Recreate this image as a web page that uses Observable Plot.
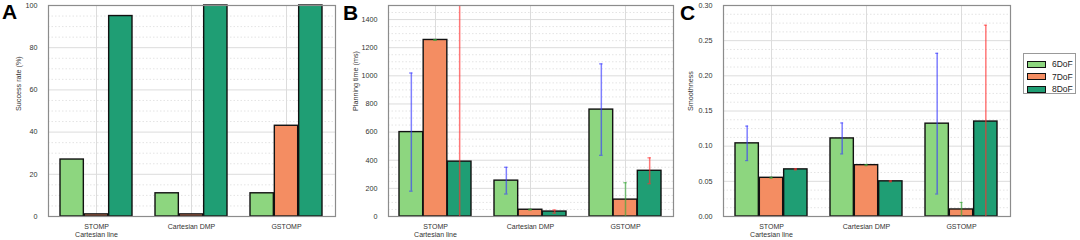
<!DOCTYPE html>
<html>
<head>
<meta charset="utf-8">
<script src="https://cdn.jsdelivr.net/npm/d3@7"></script>
<script src="https://cdn.jsdelivr.net/npm/@observablehq/plot@0.6"></script>
<style>
  html, body { margin: 0; padding: 0; background: #fff; }
  #wrap { position: relative; width: 1080px; height: 240px; overflow: hidden; font-family: "Liberation Sans", Arial, sans-serif; }
  .panel { position: absolute; top: 0; }
  .letter { position: absolute; font: bold 21px "Liberation Sans", Arial, sans-serif; color: #000; line-height: 1; }
  #legend { position: absolute; left: 1023px; top: 53px; width: 53px; height: 41px; border: 1px solid #999; background: #fff; box-sizing: border-box; padding-top: 4px; }
  .item { display: flex; align-items: center; height: 12.5px; font-size: 8.5px; color: #222; }
  .sw { width: 19px; height: 7px; border: 1.3px solid #111; box-sizing: border-box; margin: 0 6px 0 3px; }
</style>
</head>
<body>
<div id="wrap"></div>
<script>
// ---- data ----
const categories = ["STOMP\nCartesian line", "Cartesian DMP", "GSTOMP"];
const series = ["6DoF", "7DoF", "8DoF"];
const barColors = ["#8dd67f", "#f48d62", "#1f9e74"];
const errColors = ["#3b3bff", "#3aa83a", "#ff3030"];

// Panel A: success rate (%)
const success6 = [27, 11, 11];
const success7 = [1, 1, 43];
const success8 = [95, 100, 100];
const successTicks = [0, 20, 40, 60, 80, 100];

// Panel B: planning time (ms), mean and error half-width
const planning6 = [600, 255, 760];
const planning6Err = [420, 95, 325];
const planning7 = [1255, 48, 120];
const planning7Err = [3, 3, 120];
const planning8 = [390, 35, 325];
const planning8Err = [1560, 11, 92];
const planningTicks = [0, 200, 400, 600, 800, 1000, 1200, 1400];

// Panel C: smoothness
const smooth6 = [0.104, 0.111, 0.132];
const smooth6Err = [0.0245, 0.022, 0.1];
const smooth7 = [0.055, 0.073, 0.010];
const smooth7Err = [0.0008, 0.0008, 0.010];
const smooth8 = [0.067, 0.050, 0.135];
const smooth8Err = [0.0008, 0.0008, 0.137];
const smoothTicks = [0, 0.05, 0.10, 0.15, 0.20, 0.25, 0.30];

const wrap = document.getElementById("wrap");

function panel({vals, errs, domain, ticks, minorStep, label, fmt, left, width, marginLeft, marginRight, labelOffset}) {
  const W = width - marginLeft - marginRight;
  const padI = 0.237;
  const step = W / 3;
  const bw3 = step * (1 - padI) / 3;
  const rows = categories.flatMap((c, ci) => series.map((s, si) => ({
    cat: c, s, si, v: vals[si][ci], e: errs ? errs[si][ci] : null
  })));
  const minor = d3.range(domain[0], domain[1] + minorStep / 2, minorStep).filter(v => !ticks.some(t => Math.abs(t - v) < minorStep / 10));
  const marks = [
    Plot.ruleY(minor, {stroke: "#e4e4e4", strokeDasharray: "1.5,2"}),
    Plot.ruleY(ticks, {stroke: "#dcdcdc"}),
    Plot.ruleX(categories, {x: d => d, stroke: "#dcdcdc"})
  ];
  series.forEach((s, si) => {
    const sub = rows.filter(d => d.si === si);
    marks.push(Plot.barY(sub, {
      x: "cat", y: "v", fill: barColors[si], stroke: "#111", strokeWidth: 1.4,
      insetLeft: si * bw3, insetRight: (2 - si) * bw3
    }));
  });
  if (errs) {
    series.forEach((s, si) => {
      const sub = rows.filter(d => d.si === si);
      const capIL = si * bw3 + bw3 / 2 - 2, capIR = (2 - si) * bw3 + bw3 / 2 - 2;
      marks.push(Plot.ruleX(sub, {
        x: "cat", y1: d => d.v - d.e, y2: d => d.v + d.e,
        stroke: errColors[si], strokeOpacity: 0.65, strokeWidth: 1.5,
        dx: (si - 1) * bw3, clip: true
      }));
      marks.push(Plot.tickY(sub, {
        x: "cat", y: d => d.v - d.e, stroke: errColors[si], strokeOpacity: 0.65, strokeWidth: 1.2,
        insetLeft: capIL, insetRight: capIR, clip: true
      }));
      marks.push(Plot.tickY(sub, {
        x: "cat", y: d => d.v + d.e, stroke: errColors[si], strokeOpacity: 0.65, strokeWidth: 1.2,
        insetLeft: capIL, insetRight: capIR, clip: true
      }));
    });
  }
  marks.push(Plot.frame({stroke: "#8c8c8c", strokeWidth: 1.2}));
  marks.push(Plot.axisY(ticks, {tickSize: 0, tickPadding: 11, tickFormat: fmt, fontSize: 7.2, fill: "#333", label: null}));
  marks.push(Plot.axisX({tickSize: 0, tickPadding: 7, fontSize: 7, lineHeight: 1.1, fill: "#333", label: null}));
  marks.push(Plot.text([label], {frameAnchor: "left", dx: -labelOffset, rotate: -90, fontSize: 7.2, fill: "#333"}));

  const chart = Plot.plot({
    width, height: 240,
    marginLeft, marginRight, marginTop: 5, marginBottom: 24,
    style: {fontFamily: "'Liberation Sans', Arial, sans-serif", background: "transparent", overflow: "visible"},
    x: {domain: categories, paddingInner: padI, paddingOuter: padI / 2, axis: null},
    y: {domain, axis: null},
    marks
  });
  chart.classList.add("panel");
  chart.style.left = left + "px";
  wrap.appendChild(chart);
}

panel({vals: [success6, success7, success8], errs: null, domain: [0, 100], ticks: successTicks, minorStep: 5,
  label: "Success rate (%)", fmt: d => String(d), left: 0, width: 340, marginLeft: 48, marginRight: 5, labelOffset: 30});
panel({vals: [planning6, planning7, planning8], errs: [planning6Err, planning7Err, planning8Err], domain: [0, 1500], ticks: planningTicks, minorStep: 50,
  label: "Planning time (ms)", fmt: d => String(d), left: 340, width: 340, marginLeft: 48, marginRight: 7, labelOffset: 33});
panel({vals: [smooth6, smooth7, smooth8], errs: [smooth6Err, smooth7Err, smooth8Err], domain: [0, 0.30], ticks: smoothTicks, minorStep: 0.0125,
  label: "Smoothness", fmt: d => d.toFixed(2), left: 680, width: 340, marginLeft: 43, marginRight: 10, labelOffset: 33});

// panel letters
[["A", 2, 1], ["B", 343, 2], ["C", 680, 2]].forEach(([t, x, y]) => {
  const el = document.createElement("div");
  el.className = "letter"; el.textContent = t;
  el.style.left = x + "px"; el.style.top = y + "px";
  wrap.appendChild(el);
});

// legend
const legend = document.createElement("div");
legend.id = "legend";
series.forEach((s, i) => {
  const it = document.createElement("div");
  it.className = "item";
  const sw = document.createElement("div");
  sw.className = "sw"; sw.style.background = barColors[i];
  const tx = document.createElement("span"); tx.textContent = s;
  it.appendChild(sw); it.appendChild(tx);
  legend.appendChild(it);
});
wrap.appendChild(legend);
</script>
</body>
</html>
